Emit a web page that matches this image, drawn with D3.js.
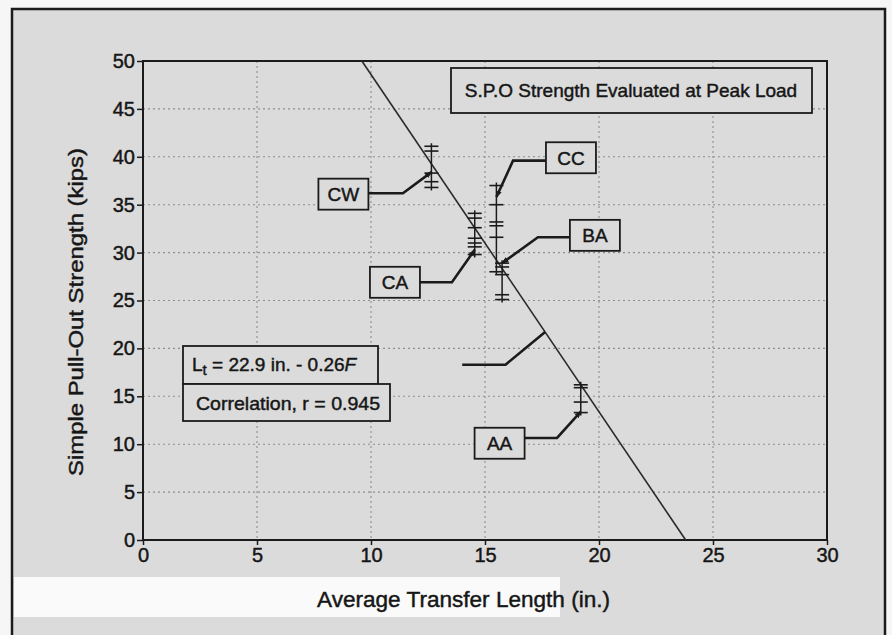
<!DOCTYPE html>
<html><head><meta charset="utf-8">
<script src="https://cdn.jsdelivr.net/npm/d3@7"></script>
<style>
body{margin:0;background:#f6f6f6;}
svg{display:block;}
text{font-family:"Liberation Sans",Arial,Helvetica,sans-serif;fill:#161616;stroke:#161616;stroke-width:0.45px;}
</style>
</head><body>
<svg id="chart" width="892" height="635"></svg>
<script>
// Simple pull-out strength against average transfer length, by strand group
const xTicks = [0, 5, 10, 15, 20, 25, 30];
const yTicks = [0, 5, 10, 15, 20, 25, 30, 35, 40, 45, 50];

const groupNames = ["CW", "CA", "CC", "BA", "AA"];
const groupLength = [12.65, 14.55, 15.5, 15.75, 19.2];
const groupStrength = [
  [41.1, 40.6, 38.3, 37.4, 36.8],
  [34.1, 33.6, 32.6, 31.5, 31.0, 30.6, 29.8],
  [37.0, 35.0, 33.2, 32.8, 31.6, 28.0],
  [28.9, 28.5, 27.7, 25.6, 25.1],
  [16.2, 15.9, 14.4, 13.3]
];

// end points of the fitted line (strength, length)
const fitStrength = [50, 0];
const fitLength = [9.6, 23.8];

// group labels: box centre, leader elbow, strength where the arrow lands
const labelX = [8.79, 11.05, 18.77, 19.82, 15.64];
const labelY = [36.1, 26.9, 39.9, 31.8, 10.1];
const elbowX = [11.4, 13.55, 16.23, 17.32, 18.16];
const elbowY = [36.2, 26.9, 39.6, 31.6, 10.65];
const arrowY = [38.4, 30.3, 35.8, 28.9, 13.4];

// leader pointing at the fitted line
const fitLeaderX = [14.0, 15.9];
const fitLeaderY = 18.3;
const fitLeaderAt = 21.7;

const titleText = "S.P.O Strength Evaluated at Peak Load";
const xTitle = "Average Transfer Length (in.)";
const yTitle = "Simple Pull-Out Strength (kips)";
const corrText = "Correlation, r = 0.945";

const svg = d3.select("#chart");
const ink = "#1b1b1b";
const paper = "#dbdbdb";

// page panel
svg.append("rect").attr("x", 12).attr("y", 9).attr("width", 873).attr("height", 640)
  .attr("fill", paper);
svg.append("rect").attr("x", 14).attr("y", 577).attr("width", 546).attr("height", 40)
  .attr("fill", "#fafafa");
svg.append("path").attr("d", "M12,640 V9 H885 V640").attr("fill", "none")
  .attr("stroke", ink).attr("stroke-width", 2.5);

const x = d3.scaleLinear().domain([0, 30]).range([143, 827]);
const y = d3.scaleLinear().domain([0, 50]).range([540, 61]);

// grid
const grid = svg.append("g").attr("stroke", "#8e8e8e").attr("stroke-width", 1.1)
  .attr("stroke-dasharray", "2,3");
grid.selectAll("line.v").data(xTicks.slice(1, -1)).join("line").attr("class", "v")
  .attr("x1", d => x(d)).attr("x2", d => x(d)).attr("y1", y(50)).attr("y2", y(0));
grid.selectAll("line.h").data(yTicks.slice(1, -1)).join("line").attr("class", "h")
  .attr("y1", d => y(d)).attr("y2", d => y(d)).attr("x1", x(0)).attr("x2", x(30));

// axes
const yAxis = svg.append("g").attr("transform", `translate(${x(0)},0)`)
  .call(d3.axisLeft(y).tickValues(yTicks).tickSize(6).tickPadding(2).tickFormat(d3.format("d")));
const xAxis = svg.append("g").attr("transform", `translate(0,${y(0)})`)
  .call(d3.axisBottom(x).tickValues(xTicks).tickSize(5).tickPadding(3).tickFormat(d3.format("d")));
[xAxis, yAxis].forEach(a => {
  a.select(".domain").remove();
  a.selectAll(".tick line").attr("stroke", ink).attr("stroke-width", 1.5);
  a.selectAll(".tick text").attr("font-size", 20).attr("fill", ink)
    .style("font-family", "'Liberation Sans',Arial,sans-serif");
});

// plot frame
svg.append("rect").attr("x", x(0)).attr("y", y(50)).attr("width", x(30) - x(0))
  .attr("height", y(0) - y(50)).attr("fill", "none").attr("stroke", ink).attr("stroke-width", 2);

// fitted line
svg.append("line").attr("x1", x(fitLength[0])).attr("y1", y(fitStrength[0]))
  .attr("x2", x(fitLength[1])).attr("y2", y(fitStrength[1]))
  .attr("stroke", "#2a2a2a").attr("stroke-width", 1.6);

// strength readings per group: vertical range with a tick at each reading
const groups = svg.append("g").selectAll("g").data(groupNames).join("g");
groups.append("line")
  .attr("x1", (d, i) => x(groupLength[i])).attr("x2", (d, i) => x(groupLength[i]))
  .attr("y1", (d, i) => y(d3.max(groupStrength[i])) - 3)
  .attr("y2", (d, i) => y(d3.min(groupStrength[i])) + 3)
  .attr("stroke", ink).attr("stroke-width", 1.5);
groups.each(function (d, i) {
  d3.select(this).selectAll("line.r").data(groupStrength[i]).join("line").attr("class", "r")
    .attr("x1", x(groupLength[i]) - 7).attr("x2", x(groupLength[i]) + 7)
    .attr("y1", v => y(v)).attr("y2", v => y(v))
    .attr("stroke", ink).attr("stroke-width", 1.6);
});

// arrow head
svg.append("defs").append("marker").attr("id", "head")
  .attr("viewBox", "0 0 10 10").attr("refX", 9).attr("refY", 5)
  .attr("markerWidth", 7).attr("markerHeight", 7).attr("markerUnits", "userSpaceOnUse")
  .attr("orient", "auto")
  .append("path").attr("d", "M0,1 L10,5 L0,9 Z").attr("fill", ink);

// group labels with leaders
const labels = svg.append("g");
groupNames.forEach((name, i) => {
  const cx = x(labelX[i]), cy = y(labelY[i]);
  const w = 50, h = 31;
  const ex = x(elbowX[i]), ey = y(elbowY[i]);
  const startX = ex > cx ? cx + w / 2 : cx - w / 2;
  labels.append("path")
    .attr("d", `M${startX},${ey} L${ex},${ey} L${x(groupLength[i])},${y(arrowY[i])}`)
    .attr("fill", "none").attr("stroke", ink).attr("stroke-width", 2.6)
    .attr("marker-end", "url(#head)");
  labels.append("rect").attr("x", cx - w / 2).attr("y", cy - h / 2).attr("width", w).attr("height", h)
    .attr("fill", paper).attr("stroke", ink).attr("stroke-width", 1.8);
  labels.append("text").attr("x", cx).attr("y", cy + 7).attr("text-anchor", "middle")
    .attr("font-size", 19).text(name);
});

// leader onto the fitted line
const fitT = (fitLeaderAt - fitStrength[0]) / (fitStrength[1] - fitStrength[0]);
const fitAtX = fitLength[0] + fitT * (fitLength[1] - fitLength[0]);
svg.append("path")
  .attr("d", `M${x(fitLeaderX[0])},${y(fitLeaderY)} L${x(fitLeaderX[1])},${y(fitLeaderY)} L${x(fitAtX)},${y(fitLeaderAt)}`)
  .attr("fill", "none").attr("stroke", ink).attr("stroke-width", 2.6);

// title box
svg.append("rect").attr("x", 451).attr("y", 68).attr("width", 361).attr("height", 45)
  .attr("fill", paper).attr("stroke", ink).attr("stroke-width", 1.8);
svg.append("text").attr("x", 631).attr("y", 97).attr("text-anchor", "middle")
  .attr("font-size", 19).text(titleText);

// equation and correlation boxes
svg.append("rect").attr("x", 183).attr("y", 346).attr("width", 195).attr("height", 38)
  .attr("fill", paper).attr("stroke", ink).attr("stroke-width", 1.8);
svg.append("rect").attr("x", 183).attr("y", 384).attr("width", 207).attr("height", 37)
  .attr("fill", paper).attr("stroke", ink).attr("stroke-width", 1.8);
const eq = svg.append("text").attr("x", 192).attr("y", 371).attr("font-size", 19);
eq.append("tspan").text("L");
eq.append("tspan").attr("font-size", 15).attr("dy", 4).text("t");
eq.append("tspan").attr("dy", -4).text(" = 22.9 in. - 0.26");
eq.append("tspan").attr("font-style", "italic").text("F");
svg.append("text").attr("x", 196).attr("y", 410).attr("font-size", 19)
  .attr("textLength", 184).attr("lengthAdjust", "spacingAndGlyphs").text(corrText);

// axis titles
svg.append("text").attr("x", 317).attr("y", 607)
  .attr("font-size", 22).attr("textLength", 293).attr("lengthAdjust", "spacingAndGlyphs").text(xTitle);
svg.append("text").attr("transform", `translate(83,476) rotate(-90)`)
  .attr("font-size", 21).attr("textLength", 328).attr("lengthAdjust", "spacingAndGlyphs").text(yTitle);
</script>
</body></html>
